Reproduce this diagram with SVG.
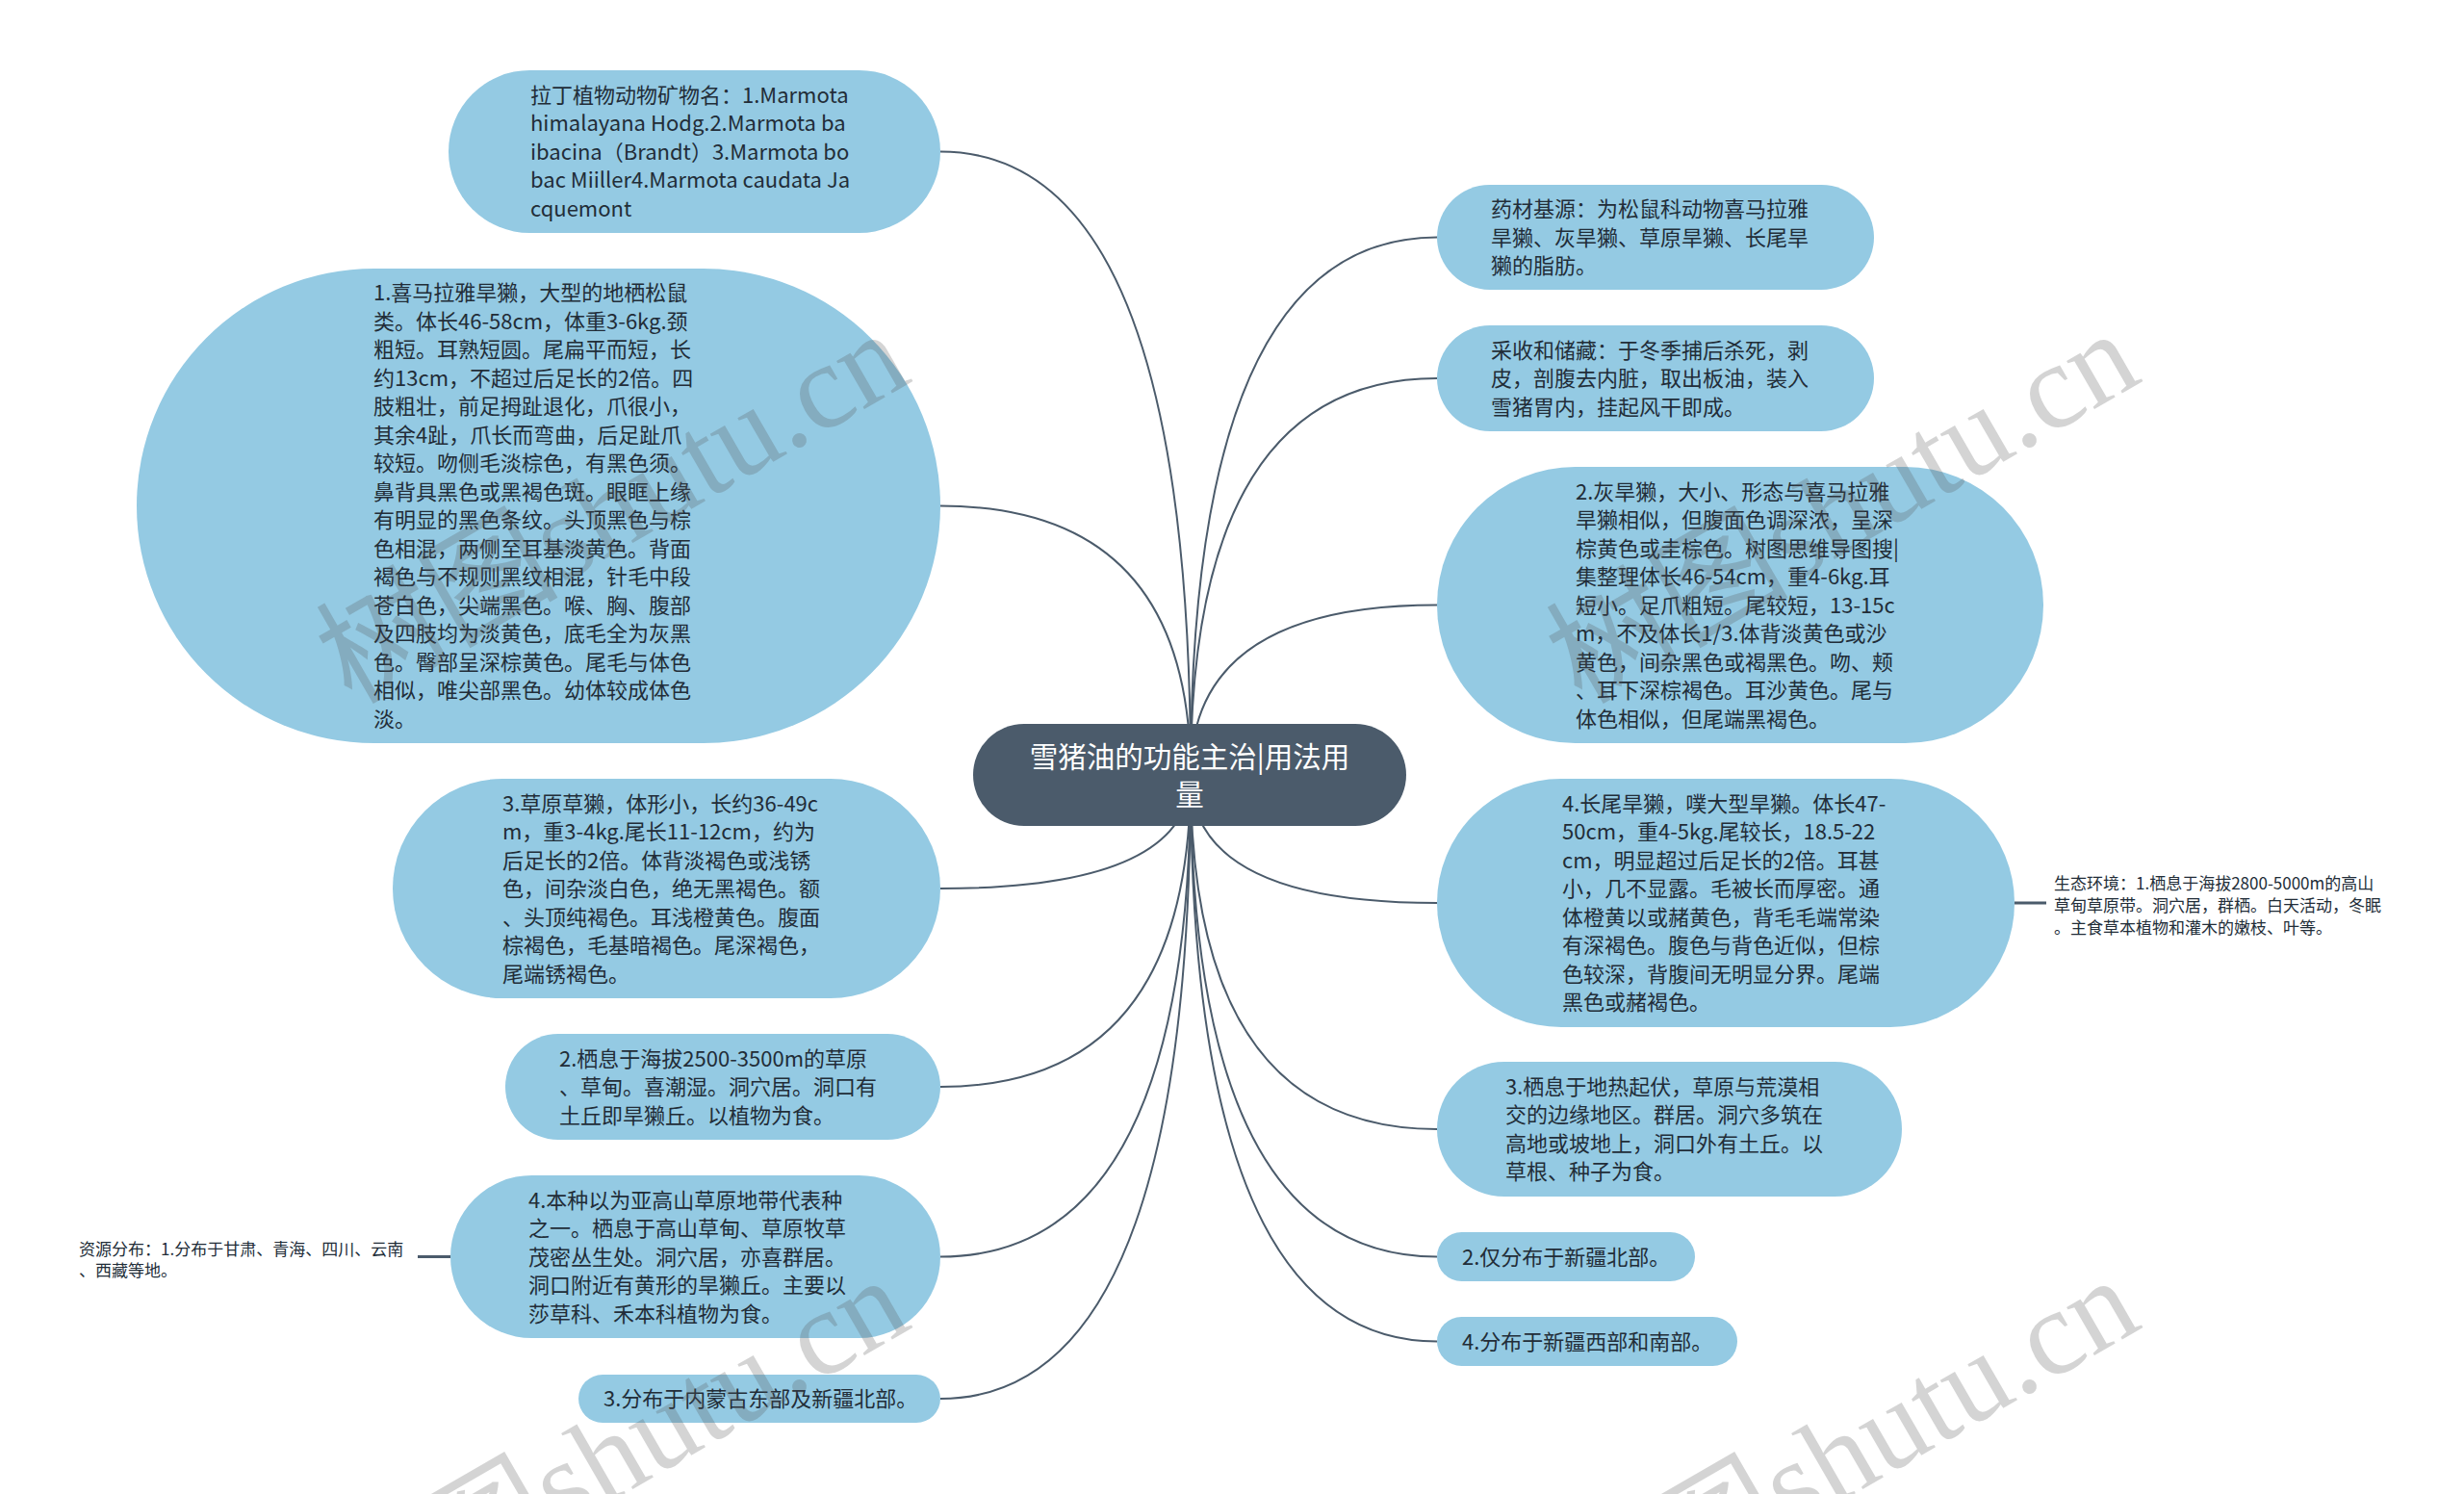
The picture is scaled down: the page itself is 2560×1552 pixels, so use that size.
<svg xmlns="http://www.w3.org/2000/svg" width="2560" height="1552" viewBox="0 0 2560 1552">
<style>
.node{fill:#94cae3;}
.root{fill:#4b5b6b;}
.t{font-family:"Noto Sans CJK SC","Noto Sans",sans-serif;font-size:22px;fill:#222d38;}
.rt{font-family:"Noto Sans CJK SC","Noto Sans",sans-serif;font-size:29.5px;fill:#ffffff;text-anchor:middle;}
.s{font-family:"Noto Sans CJK SC","Noto Sans",sans-serif;font-size:17px;fill:#222d38;}
.c{fill:none;stroke:#4b5b6b;stroke-width:2;}
.cs{fill:none;stroke:#4b5b6b;stroke-width:3;}
.wm{font-family:"Liberation Serif","Noto Sans CJK SC",serif;font-size:126px;fill:#555;fill-opacity:0.25;}
</style>
<rect width="2560" height="1552" fill="#ffffff"/>
<g id="connectors">
<path class="c" d="M977 157.5 Q1237 157.5 1237 805"/>
<path class="c" d="M977 525.5 Q1237 525.5 1237 805"/>
<path class="c" d="M977 923 Q1237 923 1237 805"/>
<path class="c" d="M977 1129 Q1237 1129 1237 805"/>
<path class="c" d="M977 1305.5 Q1237 1305.5 1237 805"/>
<path class="c" d="M977 1453 Q1237 1453 1237 805"/>
<path class="c" d="M1493 246.5 Q1237 246.5 1237 805"/>
<path class="c" d="M1493 393 Q1237 393 1237 805"/>
<path class="c" d="M1493 628.5 Q1237 628.5 1237 805"/>
<path class="c" d="M1493 938 Q1237 938 1237 805"/>
<path class="c" d="M1493 1173 Q1237 1173 1237 805"/>
<path class="c" d="M1493 1305.5 Q1237 1305.5 1237 805"/>
<path class="c" d="M1493 1393.5 Q1237 1393.5 1237 805"/>
<path class="cs" d="M434 1305.5 L468 1305.5"/>
<path class="cs" d="M2093 938 L2126 938"/>
</g>
<g id="root">
<rect class="root" x="1011" y="752" width="450" height="106" rx="53"/>
<text class="rt"><tspan x="1236" y="796.5">雪猪油的功能主治|用法用</tspan><tspan x="1236" y="835.5">量</tspan></text>
</g>
<g id="n-latin">
<rect class="node" x="466" y="73" width="511" height="169" rx="84.5"/>
<text class="t"><tspan x="551" y="106.5">拉丁植物动物矿物名：1.Marmota</tspan><tspan x="551" y="136">himalayana Hodg.2.Marmota ba</tspan><tspan x="551" y="165.5">ibacina（Brandt）3.Marmota bo</tspan><tspan x="551" y="195">bac Miiller4.Marmota caudata Ja</tspan><tspan x="551" y="224.5">cquemont</tspan></text>
</g>
<g id="n-himalaya">
<rect class="node" x="142" y="279" width="835" height="493" rx="246.5"/>
<text class="t"><tspan x="388" y="312.3">1.喜马拉雅旱獭，大型的地栖松鼠</tspan><tspan x="388" y="341.8">类。体长46-58cm，体重3-6kg.颈</tspan><tspan x="388" y="371.3">粗短。耳熟短圆。尾扁平而短，长</tspan><tspan x="388" y="400.8">约13cm，不超过后足长的2倍。四</tspan><tspan x="388" y="430.3">肢粗壮，前足拇趾退化，爪很小，</tspan><tspan x="388" y="459.8">其余4趾，爪长而弯曲，后足趾爪</tspan><tspan x="388" y="489.3">较短。吻侧毛淡棕色，有黑色须。</tspan><tspan x="388" y="518.8">鼻背具黑色或黑褐色斑。眼眶上缘</tspan><tspan x="388" y="548.3">有明显的黑色条纹。头顶黑色与棕</tspan><tspan x="388" y="577.8">色相混，两侧至耳基淡黄色。背面</tspan><tspan x="388" y="607.3">褐色与不规则黑纹相混，针毛中段</tspan><tspan x="388" y="636.8">苍白色，尖端黑色。喉、胸、腹部</tspan><tspan x="388" y="666.3">及四肢均为淡黄色，底毛全为灰黑</tspan><tspan x="388" y="695.8">色。臀部呈深棕黄色。尾毛与体色</tspan><tspan x="388" y="725.3">相似，唯尖部黑色。幼体较成体色</tspan><tspan x="388" y="754.8">淡。</tspan></text>
</g>
<g id="n-steppe">
<rect class="node" x="408" y="809" width="569" height="228" rx="114"/>
<text class="t"><tspan x="522" y="842.5">3.草原草獭，体形小，长约36-49c</tspan><tspan x="522" y="872">m，重3-4kg.尾长11-12cm，约为</tspan><tspan x="522" y="901.5">后足长的2倍。体背淡褐色或浅锈</tspan><tspan x="522" y="931">色，间杂淡白色，绝无黑褐色。额</tspan><tspan x="522" y="960.5">、头顶纯褐色。耳浅橙黄色。腹面</tspan><tspan x="522" y="990">棕褐色，毛基暗褐色。尾深褐色，</tspan><tspan x="522" y="1019.5">尾端锈褐色。</tspan></text>
</g>
<g id="n-habitat2">
<rect class="node" x="525" y="1074" width="452" height="110" rx="55"/>
<text class="t"><tspan x="581" y="1107.5">2.栖息于海拔2500-3500m的草原</tspan><tspan x="581" y="1137">、草甸。喜潮湿。洞穴居。洞口有</tspan><tspan x="581" y="1166.5">土丘即旱獭丘。以植物为食。</tspan></text>
</g>
<g id="n-habitat4">
<rect class="node" x="468" y="1221" width="509" height="169" rx="84.5"/>
<text class="t"><tspan x="549" y="1254.5">4.本种以为亚高山草原地带代表种</tspan><tspan x="549" y="1284">之一。栖息于高山草甸、草原牧草</tspan><tspan x="549" y="1313.5">茂密丛生处。洞穴居，亦喜群居。</tspan><tspan x="549" y="1343">洞口附近有黄形的旱獭丘。主要以</tspan><tspan x="549" y="1372.5">莎草科、禾本科植物为食。</tspan></text>
</g>
<g id="n-resource">
<text class="s"><tspan x="82" y="1303.5">资源分布：1.分布于甘肃、青海、四川、云南</tspan><tspan x="82" y="1325.5">、西藏等地。</tspan></text>
</g>
<g id="n-dist3">
<rect class="node" x="601" y="1428" width="376" height="50" rx="25"/>
<text class="t"><tspan x="627" y="1461">3.分布于内蒙古东部及新疆北部。</tspan></text>
</g>
<g id="n-source">
<rect class="node" x="1493" y="192" width="454" height="109" rx="54.5"/>
<text class="t"><tspan x="1549" y="225">药材基源：为松鼠科动物喜马拉雅</tspan><tspan x="1549" y="254.5">旱獭、灰旱獭、草原旱獭、长尾旱</tspan><tspan x="1549" y="284">獭的脂肪。</tspan></text>
</g>
<g id="n-harvest">
<rect class="node" x="1493" y="338" width="454" height="110" rx="55"/>
<text class="t"><tspan x="1549" y="371.5">采收和储藏：于冬季捕后杀死，剥</tspan><tspan x="1549" y="401">皮，剖腹去内脏，取出板油，装入</tspan><tspan x="1549" y="430.5">雪猪胃内，挂起风干即成。</tspan></text>
</g>
<g id="n-gray">
<rect class="node" x="1493" y="485" width="630" height="287" rx="143.5"/>
<text class="t"><tspan x="1637" y="518.5">2.灰旱獭，大小、形态与喜马拉雅</tspan><tspan x="1637" y="548">旱獭相似，但腹面色调深浓，呈深</tspan><tspan x="1637" y="577.5">棕黄色或圭棕色。树图思维导图搜|</tspan><tspan x="1637" y="607">集整理体长46-54cm，重4-6kg.耳</tspan><tspan x="1637" y="636.5">短小。足爪粗短。尾较短，13-15c</tspan><tspan x="1637" y="666">m，不及体长1/3.体背淡黄色或沙</tspan><tspan x="1637" y="695.5">黄色，间杂黑色或褐黑色。吻、颊</tspan><tspan x="1637" y="725">、耳下深棕褐色。耳沙黄色。尾与</tspan><tspan x="1637" y="754.5">体色相似，但尾端黑褐色。</tspan></text>
</g>
<g id="n-longtail">
<rect class="node" x="1493" y="809" width="600" height="258" rx="129"/>
<text class="t"><tspan x="1623" y="842.8">4.长尾旱獭，噗大型旱獭。体长47-</tspan><tspan x="1623" y="872.3">50cm，重4-5kg.尾较长，18.5-22</tspan><tspan x="1623" y="901.8">cm，明显超过后足长的2倍。耳甚</tspan><tspan x="1623" y="931.3">小，几不显露。毛被长而厚密。通</tspan><tspan x="1623" y="960.8">体橙黄以或赭黄色，背毛毛端常染</tspan><tspan x="1623" y="990.3">有深褐色。腹色与背色近似，但棕</tspan><tspan x="1623" y="1019.8">色较深，背腹间无明显分界。尾端</tspan><tspan x="1623" y="1049.3">黑色或赭褐色。</tspan></text>
</g>
<g id="n-ecology">
<text class="s"><tspan x="2134" y="923.5">生态环境：1.栖息于海拔2800-5000m的高山</tspan><tspan x="2134" y="946.5">草甸草原带。洞穴居，群栖。白天活动，冬眠</tspan><tspan x="2134" y="969.5">。主食草本植物和灌木的嫩枝、叶等。</tspan></text>
</g>
<g id="n-habitat3">
<rect class="node" x="1493" y="1103" width="483" height="140" rx="70"/>
<text class="t"><tspan x="1564" y="1136.8">3.栖息于地热起伏，草原与荒漠相</tspan><tspan x="1564" y="1166.3">交的边缘地区。群居。洞穴多筑在</tspan><tspan x="1564" y="1195.8">高地或坡地上，洞口外有土丘。以</tspan><tspan x="1564" y="1225.3">草根、种子为食。</tspan></text>
</g>
<g id="n-dist2">
<rect class="node" x="1493" y="1280" width="268" height="51" rx="25.5"/>
<text class="t"><tspan x="1519" y="1313.5">2.仅分布于新疆北部。</tspan></text>
</g>
<g id="n-dist4">
<rect class="node" x="1493" y="1368" width="312" height="51" rx="25.5"/>
<text class="t"><tspan x="1519" y="1401.5">4.分布于新疆西部和南部。</tspan></text>
</g>
<g id="watermark">
<text class="wm" text-anchor="end" transform="translate(950 395) rotate(-30)">树图shutu.cn</text>
<text class="wm" text-anchor="end" transform="translate(2228 395) rotate(-30)">树图shutu.cn</text>
<text class="wm" text-anchor="end" transform="translate(950 1378) rotate(-30)">树图shutu.cn</text>
<text class="wm" text-anchor="end" transform="translate(2228 1378) rotate(-30)">树图shutu.cn</text>
</g>
</svg>
